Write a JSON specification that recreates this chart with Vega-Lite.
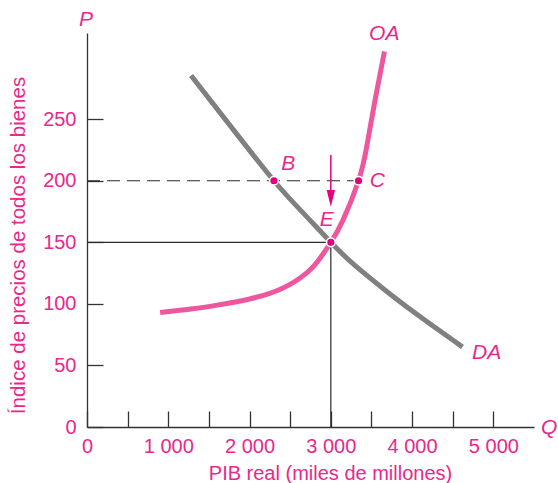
{
  "$schema": "https://vega.github.io/schema/vega-lite/v6.json",
  "width": 447,
  "height": 394,
  "autosize": {"type": "none"},
  "padding": {"left": 87, "top": 33, "right": 24, "bottom": 56},
  "config": {"view": {"stroke": null}, "font": "Liberation Sans"},
  "datasets": {
    "hsolid": [{"x": 0, "x2": 3000, "y": 150}],
    "vsolid": [{"x": 3000, "y": 0, "y2": 150}],
    "hdash": [{"x": 0, "x2": 3341, "y": 200}],
    "da": [
      {"x": 1280, "y": 285.5}, {"x": 1800, "y": 241.5}, {"x": 2300, "y": 200}, {"x": 2650, "y": 174.5},
      {"x": 3000, "y": 150}, {"x": 3300, "y": 131}, {"x": 3700, "y": 109.5}, {"x": 4100, "y": 89.5}, {"x": 4620, "y": 65}
    ],
    "oa": [
      {"x": 900, "y": 93}, {"x": 1300, "y": 96}, {"x": 1600, "y": 99}, {"x": 2000, "y": 104}, {"x": 2400, "y": 112.5},
      {"x": 2700, "y": 125}, {"x": 2850, "y": 135.5}, {"x": 3000, "y": 150}, {"x": 3150, "y": 168},
      {"x": 3341, "y": 200}, {"x": 3440, "y": 227}, {"x": 3540, "y": 264}, {"x": 3660, "y": 305}
    ],
    "arrow": [{"x": 3000, "y": 221, "y2": 190}],
    "arrowhead": [{"x": 3000, "y": 185.7}],
    "pts": [{"x": 2300, "y": 200, "name": "B"}, {"x": 3341, "y": 200, "name": "C"}, {"x": 3000, "y": 150, "name": "E"}],
    "labels": [
      {"x": -12, "y": 330.6, "label": "P"},
      {"x": 5688, "y": -1, "label": "Q"},
      {"x": 3658, "y": 319, "label": "OA"},
      {"x": 4918, "y": 60, "label": "DA"},
      {"x": 2477, "y": 214, "label": "B"},
      {"x": 3572, "y": 200, "label": "C"},
      {"x": 2949, "y": 168, "label": "E"}
    ]
  },
  "encoding": {
    "x": {
      "field": "x", "type": "quantitative",
      "scale": {"domain": [0, 5500], "nice": false, "zero": false},
      "axis": {
        "values": [0, 500, 1000, 1500, 2000, 2500, 3000, 3500, 4000, 4500, 5000],
        "labelExpr": "datum.value % 1000 == 0 ? (datum.value == 0 ? '0' : (datum.value / 1000) + ' 000') : ''",
        "grid": false, "tickSize": -16, "labelPadding": 25, "labelFlush": false, "labelOverlap": false,
        "domainColor": "#333333", "tickColor": "#333333", "domainWidth": 1.3, "tickWidth": 1.3,
        "labelColor": "#E8288C", "labelFontSize": 20, "labelFont": "Liberation Sans",
        "title": "PIB real (miles de millones)", "titleColor": "#E8288C", "titleFontSize": 20,
        "titleFontWeight": "normal", "titleFont": "Liberation Sans",
        "titleX": 243, "titleY": 46, "titleAlign": "center", "titleBaseline": "middle"
      }
    },
    "y": {
      "field": "y", "type": "quantitative",
      "scale": {"domain": [0, 320], "nice": false, "zero": false},
      "axis": {
        "values": [0, 50, 100, 150, 200, 250],
        "grid": false, "tickSize": -16, "labelPadding": 27, "labelFlush": false, "labelOverlap": false,
        "domainColor": "#333333", "tickColor": "#333333", "domainWidth": 1.3, "tickWidth": 1.3,
        "labelColor": "#E8288C", "labelFontSize": 20, "labelFont": "Liberation Sans",
        "title": "Índice de precios de todos los bienes", "titleColor": "#E8288C", "titleFontSize": 20.5,
        "titleFontWeight": "normal", "titleFont": "Liberation Sans",
        "titleX": -69, "titleY": 212, "titleAlign": "center", "titleBaseline": "middle", "titleAngle": -90
      }
    }
  },
  "layer": [
    {"data": {"name": "hsolid"}, "mark": {"type": "rule", "color": "#2b2b2b", "strokeWidth": 1.2}, "encoding": {"x2": {"field": "x2"}}},
    {"data": {"name": "vsolid"}, "mark": {"type": "rule", "color": "#2b2b2b", "strokeWidth": 1.2}, "encoding": {"y2": {"field": "y2"}}},
    {"data": {"name": "hdash"}, "mark": {"type": "rule", "color": "#2b2b2b", "strokeWidth": 1.2, "strokeDash": [13, 7]}, "encoding": {"x2": {"field": "x2"}}},
    {"data": {"name": "da"}, "mark": {"type": "line", "color": "#808080", "strokeWidth": 5, "interpolate": "natural", "strokeCap": "butt"}, "encoding": {}},
    {"data": {"name": "oa"}, "mark": {"type": "line", "color": "#EE579E", "strokeWidth": 5, "interpolate": "natural", "strokeCap": "butt"}, "encoding": {}},
    {"data": {"name": "arrow"}, "mark": {"type": "rule", "color": "#E6007E", "strokeWidth": 1.5}, "encoding": {"y2": {"field": "y2"}}},
    {"data": {"name": "arrowhead"}, "mark": {"type": "point", "shape": "M-0.5,-1L0.5,-1L0,1Z", "size": 276, "filled": true, "color": "#E6007E", "opacity": 1}, "encoding": {}},
    {"data": {"name": "pts"}, "mark": {"type": "point", "shape": "circle", "size": 75, "filled": true, "color": "#E6007E", "stroke": "white", "strokeWidth": 1.5, "opacity": 1}, "encoding": {}},
    {"data": {"name": "labels"}, "mark": {"type": "text", "font": "Liberation Sans", "fontStyle": "italic", "fontSize": 21, "color": "#E8288C", "align": "center", "baseline": "middle"}, "encoding": {"text": {"field": "label"}}}
  ]
}
